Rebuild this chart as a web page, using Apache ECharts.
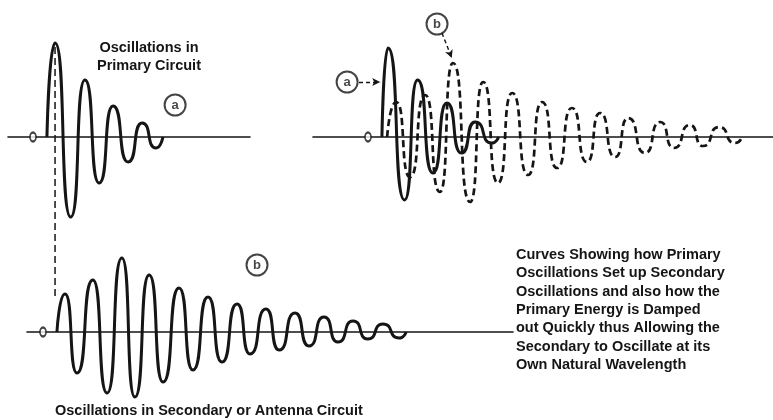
<!DOCTYPE html>
<html>
<head>
<meta charset="utf-8">
<script src="https://cdn.jsdelivr.net/npm/echarts@6/dist/echarts.min.js"></script>
<style>
  html, body { margin: 0; padding: 0; background: #fff; }
  #chart { width: 773px; height: 420px; }
</style>
</head>
<body>
<div id="chart"></div>
<script>
// Time is counted in oscillation cycles from the "0" mark of each trace;
// amplitude is in relative units. Each trace is given by its start,
// its successive crests and troughs, and the point where it dies out.

// (a) primary circuit alone
const primaryTime = [0.48, 0.76, 1.30, 1.79, 2.28, 2.76, 3.28, 3.76, 4.24, 4.48];
const primaryAmp  = [0,    94,   -80,  57,   -46,  31,   -25,  14,   -11,  0];

// coupled circuits: primary (solid) and secondary (dashed)
const coupledPrimaryTime = [0.48, 0.69, 1.26, 1.71, 2.24, 2.72, 3.22, 3.69, 4.26, 4.50];
const coupledPrimaryAmp  = [0,    89,   -63,  57,   -36,  34,   -16,  15,   -6,   0];

const coupledSecondaryTime = [0.66, 0.97, 1.45, 1.97, 2.48, 2.93, 3.52, 3.97, 4.48, 4.97, 5.52, 6.00, 6.52, 7.03, 7.55, 8.00, 8.52, 8.97, 9.55, 10.07, 10.55, 11.10, 11.55, 12.10, 12.66, 12.90];
const coupledSecondaryAmp  = [0,    35,   -40,  42,   -55,  74,   -65,  55,   -46,  44,   -38,  35,   -31,  29,   -25,  24,   -20,  19,   -16,  15,    -11,   12,    -9,    10,    -6,    0];

// (b) secondary or antenna circuit
const secondaryTime = [0.48, 0.76, 1.17, 1.72, 2.21, 2.72, 3.17, 3.66, 4.14, 4.69, 5.17, 5.69, 6.17, 6.69, 7.14, 7.69, 8.14, 8.69, 9.17, 9.69, 10.17, 10.69, 11.20, 11.72, 12.28, 12.52];
const secondaryAmp  = [0,    38,   -41,  52,   -61,  74,   -65,  57,   -50,  44,   -38,  35,   -30,  28,   -22,  23,   -18,  19,   -14,  15,   -10,   11,    -7,    8,     -6,    0];

// circled letters: [panel, time, amplitude, letter]
const tags = [
  [0, 4.90, 32, 'a'],
  [1, -0.72, 55, 'a'],
  [1, 2.38, 113, 'b'],
  [2, 7.38, 67, 'b']
];

const primaryTitle = ['Oscillations in', 'Primary Circuit'];
const secondaryTitle = 'Oscillations in Secondary or Antenna Circuit';
const captionLines = [
  'Curves Showing how Primary',
  'Oscillations Set up Secondary',
  'Oscillations and also how the',
  'Primary Energy is Damped',
  'out Quickly thus Allowing the',
  'Secondary to Oscillate at its',
  'Own Natural Wavelength'
];

const INK = '#151515';
const FONT = 'bold 14.5px "Liberation Sans", Arial, sans-serif';
const PX_PER_CYCLE = 29;
// layout of the three traces: origin mark, axis start/end, axis height, half height
const panels = [
  { origin: 33,  from: 8,   to: 250, axisY: 137, half: 120 },
  { origin: 368, from: 313, to: 773, axisY: 137, half: 132 },
  { origin: 43,  from: 27,  to: 513, axisY: 332, half: 85 }
];

const zip = (t, a) => t.map((v, i) => [v, a[i]]);

const grid = panels.map(p => ({
  left: p.from, width: p.to - p.from,
  top: p.axisY - p.half, height: 2 * p.half
}));
const xAxis = panels.map((p, i) => ({
  type: 'value', gridIndex: i,
  min: (p.from - p.origin) / PX_PER_CYCLE,
  max: (p.to - p.origin) / PX_PER_CYCLE,
  axisLine: { show: true, onZero: true, lineStyle: { color: INK, width: 1.6 } },
  axisTick: { show: false }, axisLabel: { show: false }, splitLine: { show: false }
}));
const yAxis = panels.map((p, i) => ({
  type: 'value', gridIndex: i, min: -p.half, max: p.half,
  axisLine: { show: false }, axisTick: { show: false },
  axisLabel: { show: false }, splitLine: { show: false }
}));

// crests and troughs are joined by curves that are flat at each turning point
function wave(idx, time, amp, dashed) {
  return {
    type: 'line', xAxisIndex: idx, yAxisIndex: idx,
    data: zip(time, amp),
    smooth: 0.72, smoothMonotone: 'x',
    symbol: 'none', clip: false, silent: true, z: dashed ? 3 : 4,
    lineStyle: {
      color: INK, width: dashed ? 2.7 : 3,
      type: dashed ? [7, 4] : 'solid', cap: 'butt', join: 'round'
    }
  };
}

const series = [
  wave(0, primaryTime, primaryAmp, false),
  wave(1, coupledSecondaryTime, coupledSecondaryAmp, true),
  wave(1, coupledPrimaryTime, coupledPrimaryAmp, false),
  wave(2, secondaryTime, secondaryAmp, false)
];

// origin marks
panels.forEach((p, i) => series.push({
  type: 'scatter', xAxisIndex: i, yAxisIndex: i, data: [[0, 0]],
  symbol: 'circle', symbolSize: [6, 9], silent: true, z: 6,
  itemStyle: { color: '#fff', borderColor: INK, borderWidth: 2 }
}));

// circled letters, with the pointer arrows of the coupled trace
panels.forEach((p, i) => {
  const mine = tags.filter(t => t[0] === i);
  const s = {
    type: 'scatter', xAxisIndex: i, yAxisIndex: i, silent: true, z: 7,
    data: mine.map(t => ({ value: [t[1], t[2]], name: t[3] })),
    symbol: 'circle', symbolSize: 21,
    itemStyle: { color: '#fff', borderColor: INK, borderWidth: 2 },
    label: {
      show: true, position: 'inside', formatter: '{b}', color: INK,
      fontFamily: '"Liberation Sans", Arial, sans-serif', fontWeight: 'bold', fontSize: 13
    }
  };
  if (i === 1) {
    const peak = coupledSecondaryAmp.indexOf(Math.max(...coupledSecondaryAmp));
    s.markLine = {
      silent: true, symbol: ['none', 'arrow'], symbolSize: [6, 8],
      label: { show: false },
      lineStyle: { color: INK, width: 1.4, type: [4, 3] },
      data: [
        [{ coord: [-0.31, 55] }, { coord: [coupledPrimaryTime[0] - 0.06, 55] }],
        [{ coord: [2.55, 104] }, { coord: [coupledSecondaryTime[peak] - 0.04, coupledSecondaryAmp[peak] + 5] }]
      ]
    };
  }
  series.push(s);
});

function text(str, x, y, align) {
  return {
    type: 'text', x: x, y: y, silent: true,
    style: {
      text: str, font: FONT, fill: INK,
      textAlign: align, textVerticalAlign: 'middle',
      align: align, verticalAlign: 'middle'
    }
  };
}

const graphic = [
  text(primaryTitle[0], 149, 48, 'center'),
  text(primaryTitle[1], 149, 66, 'center'),
  text(secondaryTitle, 55, 411, 'left')
];
captionLines.forEach((l, k) => graphic.push(text(l, 516, 255 + k * 18.3, 'left')));

const chart = echarts.init(document.getElementById('chart'), null, { renderer: 'canvas' });
chart.setOption({
  backgroundColor: '#fff',
  animation: false,
  grid, xAxis, yAxis, series, graphic
});

// dashed guide from the primary's first crest down to the first crest of the secondary
const peakIdx = primaryAmp.indexOf(Math.max(...primaryAmp));
const crest = chart.convertToPixel({ gridIndex: 0 }, [primaryTime[peakIdx], primaryAmp[peakIdx]]);
const start = chart.convertToPixel({ gridIndex: 2 }, [secondaryTime[1], secondaryAmp[1]]);
graphic.push({
  type: 'line', silent: true, z: 2,
  shape: { x1: crest[0], y1: crest[1] + 4, x2: crest[0], y2: start[1] + 6 },
  style: { stroke: INK, lineWidth: 1.5, lineDash: [7, 4] }
});
chart.setOption({ graphic });
</script>
</body>
</html>
